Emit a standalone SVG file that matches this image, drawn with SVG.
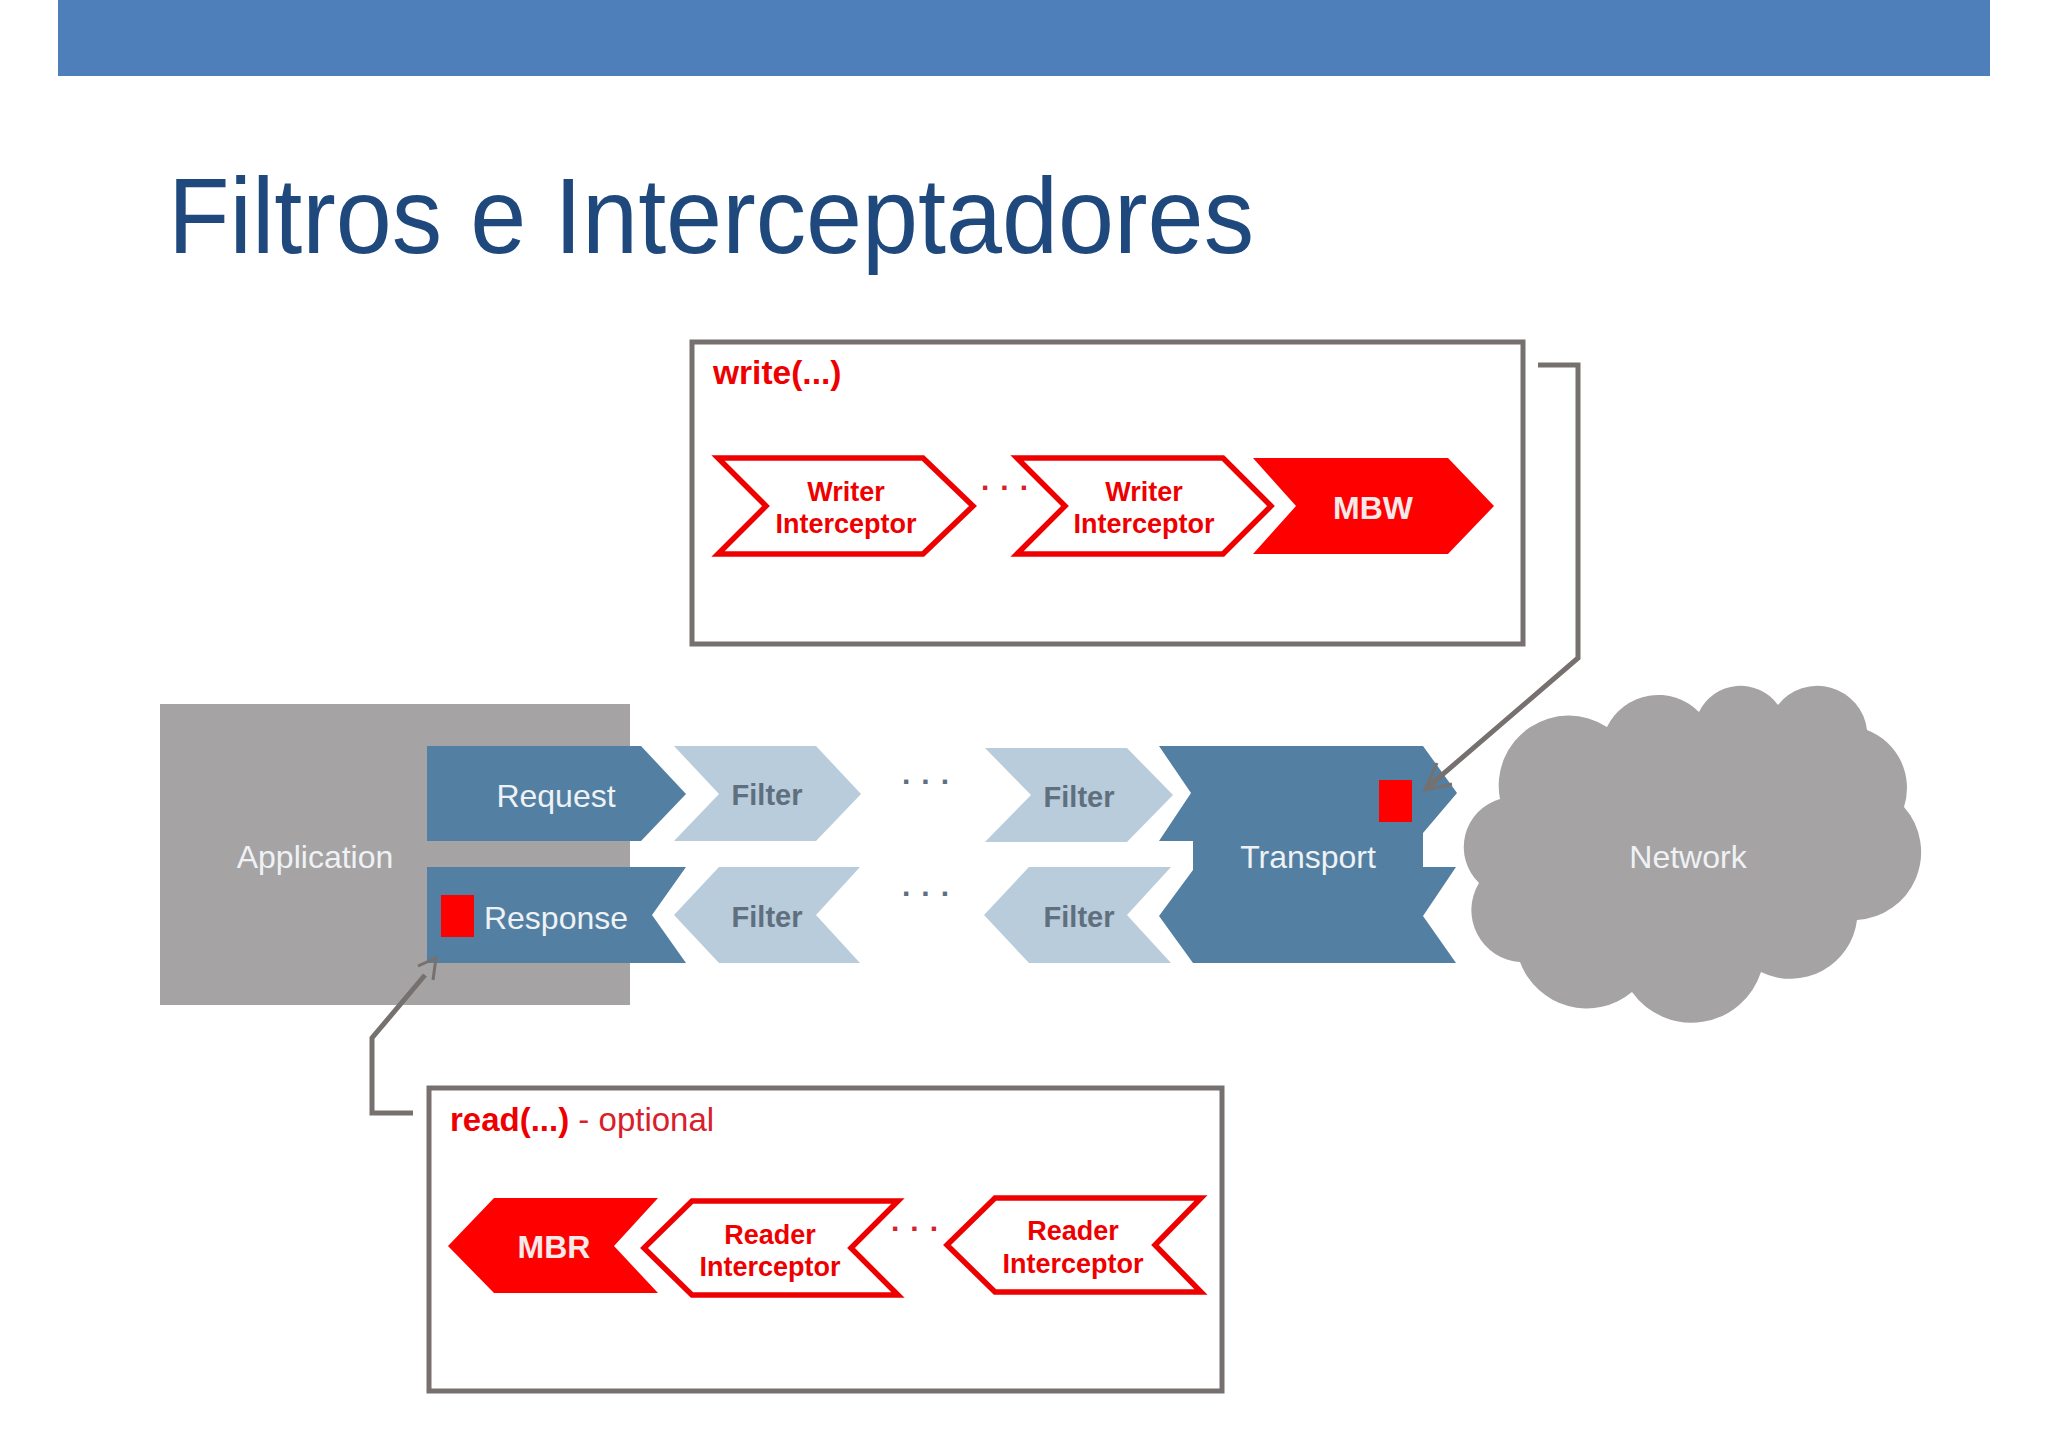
<svg xmlns="http://www.w3.org/2000/svg" width="2048" height="1448" viewBox="0 0 2048 1448">
<style>
text{font-family:"Liberation Sans",Arial,sans-serif}
.m{text-anchor:middle}
.w{fill:#eef2f5;font-size:32px}
.r{fill:#ee0000;font-size:27px;font-weight:bold;text-anchor:middle}
.wb{fill:#f6e9e9;font-size:32px;font-weight:bold;text-anchor:middle}
.f{fill:#5f6f7e;font-size:29px;font-weight:bold;text-anchor:middle}
.blue{fill:#537fa2}
.light{fill:#b8ccdc}
.ch{fill:#fff;stroke:#ee0000;stroke-width:5.5}
.box{fill:#fff;stroke:#76706f;stroke-width:5}
.red{fill:#ff0000}
.dk{fill:#5f6f7e;font-size:30px;font-weight:bold;letter-spacing:11px}
.dr{fill:#d8202c;font-size:30px;font-weight:bold;letter-spacing:11px}
.conn{fill:none;stroke:#76706f;stroke-width:5}
.head{fill:none;stroke:#76706f;stroke-width:3}
</style>
<rect width="2048" height="1448" fill="#ffffff"/>
<rect id="header" x="58" y="0" width="1932" height="76" fill="#4f7fbb"/>
<text id="title" x="168" y="253" font-size="107" fill="#1f497d" textLength="1086" lengthAdjust="spacingAndGlyphs">Filtros e Interceptadores</text>

<g id="application"><rect x="160" y="704" width="470" height="301" fill="#a5a3a4"/><text class="w m" x="315" y="868">Application</text></g>
<g id="network"><path fill="#a5a3a4" d="M1607 727A57 57 0 0 1 1699 712A46 46 0 0 1 1778 705A50 50 0 0 1 1867 730A62 62 0 0 1 1904 807A68 68 0 0 1 1857 920A67 67 0 0 1 1761 972A73 73 0 0 1 1632 992A71 71 0 0 1 1520 962A52 52 0 0 1 1479 883A50 50 0 0 1 1500 799A70 70 0 0 1 1607 727Z"/><text class="w m" x="1688" y="868">Network</text></g>

<g id="write-box"><rect class="box" x="692" y="342" width="831" height="302"/><text x="713" y="384" fill="#ee0000" font-size="33.5" font-weight="bold">write(...)</text></g>
<g id="writer1"><polygon class="ch" points="718,458 923,458 973,506 923,554 718,554 766,506"/><text class="r" x="846" y="501">Writer</text><text class="r" x="846" y="533">Interceptor</text></g>
<text class="dr" x="981" y="490">...</text>
<g id="writer2"><polygon class="ch" points="1017,458 1223,458 1271,506 1223,554 1017,554 1065,506"/><text class="r" x="1144" y="501">Writer</text><text class="r" x="1144" y="533">Interceptor</text></g>
<g id="mbw"><polygon class="red" points="1253,458 1448,458 1494,506 1448,554 1253,554 1296,506"/><text class="wb" x="1373" y="519">MBW</text></g>

<g id="request"><polygon class="blue" points="427,746 641,746 686,794 641,841 427,841"/><text class="w m" x="556" y="807">Request</text></g>
<g id="filter1"><polygon class="light" points="674,746 816,746 861,794 816,841 674,841 719,794"/><text class="f" x="767" y="805">Filter</text></g>
<text class="dk" x="902" y="784">...</text>
<g id="filter2"><polygon class="light" points="985,748 1127,748 1173,795 1127,842 985,842 1031,795"/><text class="f" x="1079" y="807">Filter</text></g>

<g id="response"><polygon class="blue" points="427,867 686,867 652,915 686,963 427,963"/><rect class="red" x="441" y="895" width="33" height="42"/><text class="w m" x="556" y="929">Response</text></g>
<g id="filter3"><polygon class="light" points="674,915 719,867 860,867 816,915 860,963 719,963"/><text class="f" x="767" y="927">Filter</text></g>
<text class="dk" x="902" y="896">...</text>
<g id="filter4"><polygon class="light" points="984,915 1029,867 1171,867 1127,915 1171,963 1029,963"/><text class="f" x="1079" y="927">Filter</text></g>

<g id="transport"><polygon class="blue" points="1159,746 1423,746 1457,793 1423,833 1423,867 1456,867 1423,916 1456,963 1193,963 1159,916 1193,870 1193,841 1159,841 1191,793"/><rect class="red" x="1379" y="780" width="33" height="42"/><text class="w m" x="1308" y="868">Transport</text></g>

<g id="read-box"><rect class="box" x="429" y="1088" width="793" height="303"/><text x="450" y="1131" font-size="33" fill="#ee0000" font-weight="bold">read(...)<tspan font-weight="normal" fill="#d8202c"> - optional</tspan></text></g>
<g id="mbr"><polygon class="red" points="448,1246 494,1198 658,1198 614,1246 658,1293 494,1293"/><text class="wb" x="554" y="1258">MBR</text></g>
<g id="reader1"><polygon class="ch" points="644,1248 692,1201 898,1201 851,1248 898,1295 692,1295"/><text class="r" x="770" y="1244">Reader</text><text class="r" x="770" y="1276">Interceptor</text></g>
<text class="dr" x="891" y="1231">...</text>
<g id="reader2"><polygon class="ch" points="947,1245 995,1198 1201,1198 1155,1245 1201,1292 995,1292"/><text class="r" x="1073" y="1240">Reader</text><text class="r" x="1073" y="1273">Interceptor</text></g>

<g id="connectors">
<path class="conn" d="M1538 365H1578V658L1428 787"/>
<path class="head" d="M1437 763L1425 790L1452 784"/>
<path class="conn" d="M413 1113H372V1038L425 975"/>
<path class="head" d="M418 966L436 958L433 980"/>
</g>
</svg>
